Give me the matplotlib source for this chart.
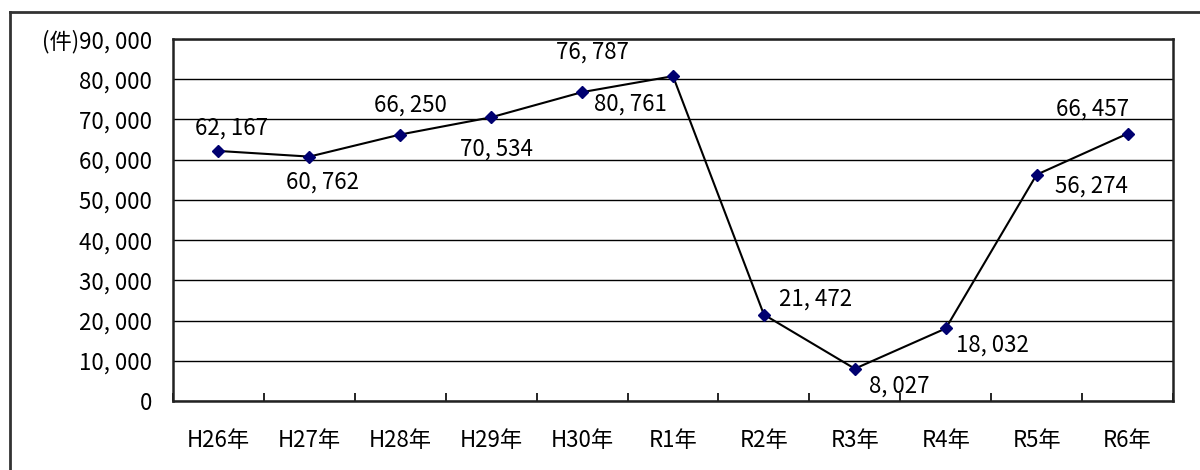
import numpy as np
import matplotlib
matplotlib.use('Agg')
import matplotlib.pyplot as plt
from matplotlib.lines import Line2D

# データ
years = ['H26年', 'H27年', 'H28年', 'H29年', 'H30年', 'R1年',
         'R2年', 'R3年', 'R4年', 'R5年', 'R6年']
counts = [62167, 60762, 66250, 70534, 76787, 80761,
          21472, 8027, 18032, 56274, 66457]
yticks = [0, 10000, 20000, 30000, 40000, 50000, 60000, 70000, 80000, 90000]

# ラベル位置 (pixels)
offsets = [(13, 23), (13, -26), (10, 29), (5, -32), (10, 40), (-43, -28),
           (52, 16), (44, -17), (47, -17), (55, -11), (-35, 25)]

plt.rcParams['font.family'] = ['Noto Sans CJK JP', 'DejaVu Sans']

fig = plt.figure(figsize=(12, 4.7), dpi=100)
ax = fig.add_axes([173 / 1200, 1 - 401 / 470, 1000 / 1200, 362 / 470])

x = np.arange(len(years))
ax.plot(x, counts, color='black', lw=1.5, marker='D', markersize=6,
        markerfacecolor='#000070', markeredgecolor='#000070', zorder=3)

for xi, v, off in zip(x, counts, offsets):
    ax.annotate(f'{v:,}'.replace(',', ', '), (xi, v), xytext=off,
                textcoords='offset pixels', ha='center', va='center', fontsize=16)

ax.set_xlim(-0.5, len(years) - 0.5)
ax.set_ylim(0, 90000)
ax.set_xticks(x)
ax.set_xticklabels(years, fontsize=16)
ax.set_xticks(np.arange(len(years) + 1) - 0.5, minor=True)
ax.tick_params(axis='x', which='major', length=0, pad=20)
ax.tick_params(axis='x', which='minor', direction='in', length=6, width=1.2)
ax.set_yticks(yticks)
ylabels = [f'{v:,}'.replace(',', ', ') for v in yticks]
ylabels[-1] = '(件)' + ylabels[-1]
ax.set_yticklabels(ylabels, fontsize=16)
ax.tick_params(axis='y', length=0, pad=15)
ax.grid(axis='y', color='black', lw=1)
for s in ax.spines.values():
    s.set_linewidth(1.8)
    s.set_color('#222222')

# 外枠
fig.add_artist(Line2D([10 / 1200, 10 / 1200], [0, 1 - 12 / 470], color='#333333', lw=2))
fig.add_artist(Line2D([10 / 1200, 1], [1 - 12 / 470, 1 - 12 / 470], color='#333333', lw=2))

fig.savefig('out.png', dpi=100)
